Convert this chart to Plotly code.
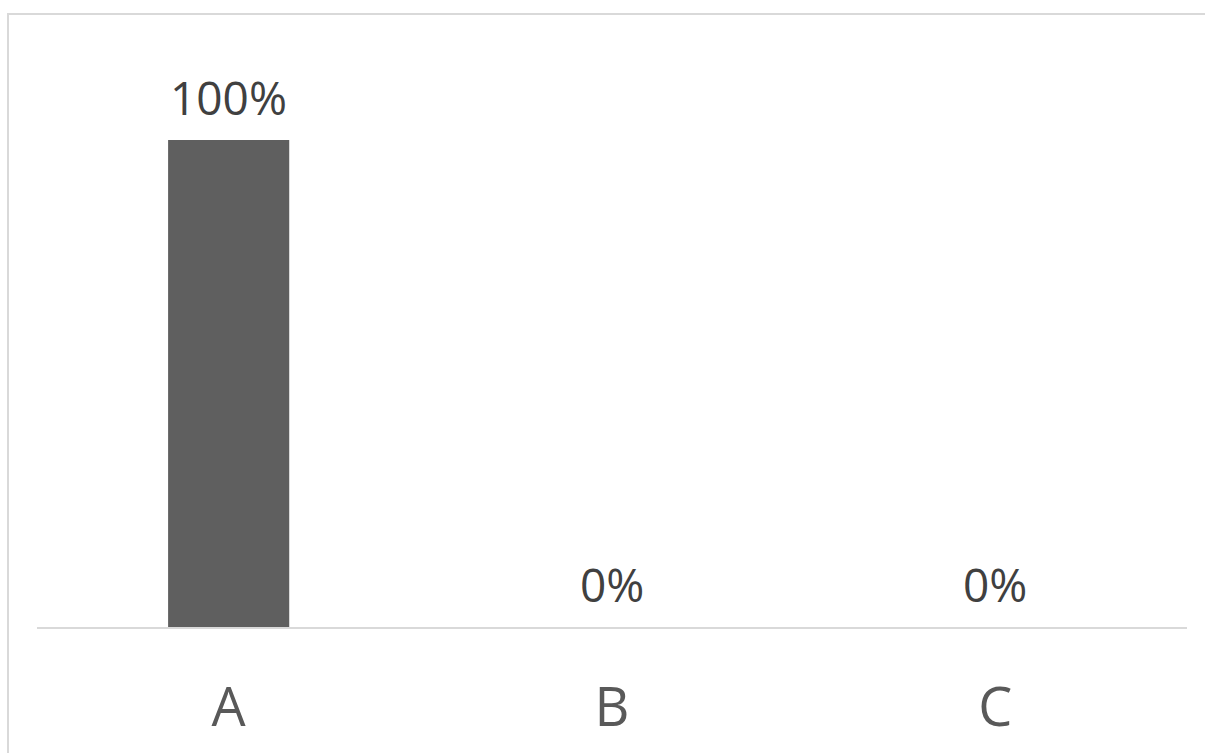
import plotly.graph_objects as go

categories = ["A", "B", "C"]
values = [1.0, 0.0, 0.0]
labels = ["100%", "0%", "0%"]

W, H = 1205, 753
L, R, T, B = 37, 18, 140, 126
pw, ph = W - L - R, H - T - B

fig = go.Figure(go.Bar(
    x=categories, y=values,
    marker=dict(color="#5f5f5f", line=dict(width=0)),
    cliponaxis=False, width=0.316, hoverinfo="x+y",
))

def px_x(p):
    return (p - L) / pw

def px_y(p):
    return (H - B - p) / ph

annotations = [
    dict(x=c, y=v, xref="x", yref="y", text=t, showarrow=False,
         yanchor="middle", yshift=43,
         font=dict(family="Open Sans", size=46, color="#404040"))
    for c, v, t in zip(categories, values, labels)
]

fig.update_layout(
    width=W, height=H,
    margin=dict(l=L, r=R, t=T, b=B),
    paper_bgcolor="white", plot_bgcolor="white",
    showlegend=False,
    annotations=annotations,
    xaxis=dict(showline=True, linecolor="#d9d9d9", linewidth=2, ticks="",
               tickfont=dict(family="Open Sans", size=54, color="#595959"),
               ticklabelstandoff=32, showgrid=False, zeroline=False),
    yaxis=dict(range=[0, 1.0], visible=False, showgrid=False, zeroline=False),
    shapes=[
        dict(type="line", xref="paper", yref="paper", x0=px_x(8), x1=px_x(8), y0=px_y(14), y1=px_y(760),
             line=dict(color="#d9d9d9", width=2)),
        dict(type="line", xref="paper", yref="paper", x0=px_x(7), x1=px_x(1210), y0=px_y(14), y1=px_y(14),
             line=dict(color="#d9d9d9", width=2)),
    ],
)
fig.write_html("out.html")
